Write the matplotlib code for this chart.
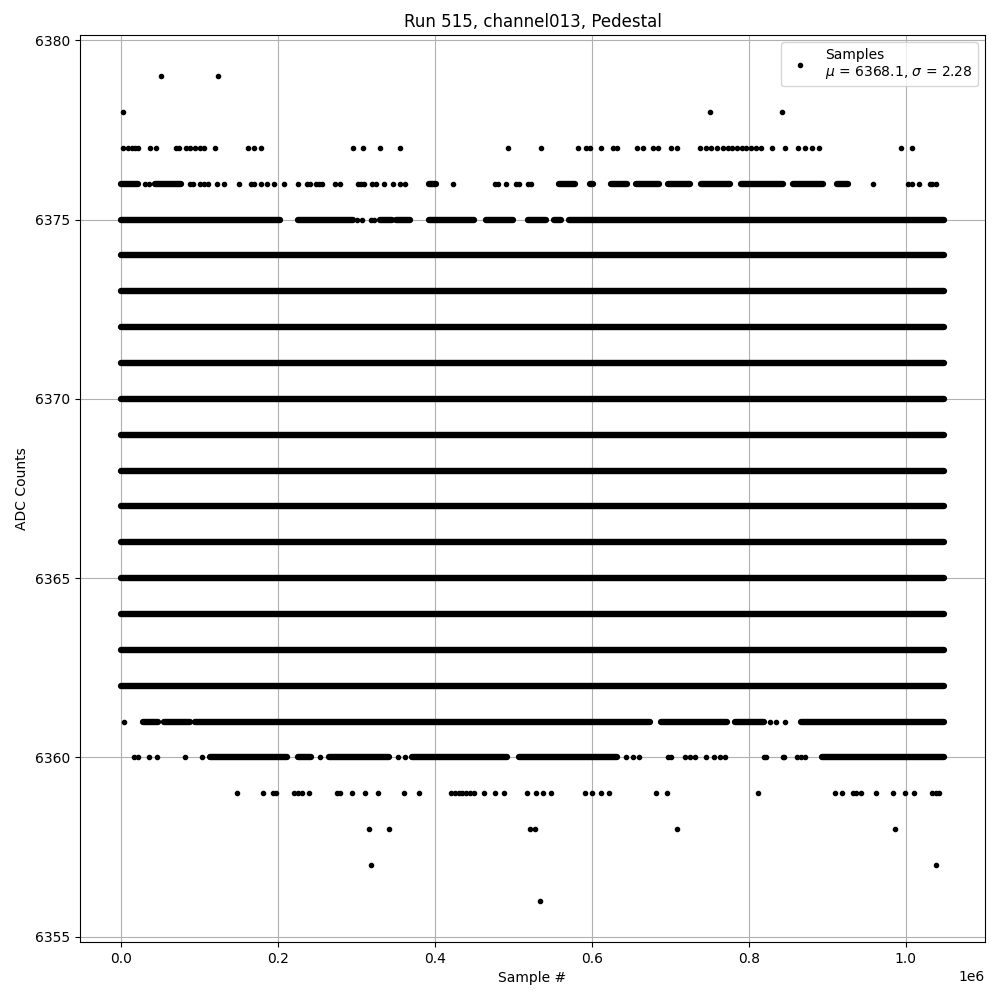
import matplotlib
matplotlib.use("Agg")
import matplotlib.pyplot as plt

# run / channel info
run_number = 515
channel = "channel013"
mean_adc = 6368.1
sigma_adc = 2.28

# last sample index (x values below are in units of 1e6 samples)
x_end = 1.048575

# ADC levels that are filled over the whole run
full_levels = [6362, 6363, 6364, 6365, 6366, 6367, 6368,
               6369, 6370, 6371, 6372, 6373, 6374]

# densely filled stretches (start, end) for the partly filled levels
seg_6375 = [(0.000, 0.203), (0.225, 0.295), (0.330, 0.345), (0.350, 0.368),
            (0.392, 0.450), (0.465, 0.500), (0.518, 0.541), (0.552, 0.560),
            (0.571, x_end)]
seg_6376 = [(0.000, 0.021), (0.043, 0.076), (0.392, 0.401), (0.558, 0.579),
            (0.597, 0.602), (0.624, 0.645), (0.656, 0.685), (0.697, 0.725),
            (0.739, 0.776), (0.790, 0.844), (0.856, 0.895), (0.913, 0.927)]
seg_6361 = [(0.028, 0.047), (0.055, 0.088), (0.094, 0.674), (0.688, 0.772),
            (0.783, 0.819), (0.866, x_end)]
seg_6360 = [(0.113, 0.212), (0.225, 0.242), (0.265, 0.341), (0.371, 0.492),
            (0.507, 0.632), (0.893, x_end)]

# single samples outside the dense stretches
pts_6379 = [0.051, 0.124]
pts_6378 = [0.002, 0.751, 0.842]
pts_6377 = [0.002, 0.009, 0.014, 0.018, 0.022, 0.037, 0.045, 0.070, 0.074,
            0.083, 0.088, 0.094, 0.101, 0.106, 0.120, 0.162, 0.169, 0.178,
            0.296, 0.308, 0.330, 0.356, 0.493, 0.535, 0.582, 0.592, 0.597,
            0.611, 0.627, 0.632, 0.657, 0.665, 0.678, 0.684, 0.701, 0.708,
            0.738, 0.745, 0.752, 0.759, 0.767, 0.773, 0.779, 0.785, 0.791,
            0.797, 0.803, 0.809, 0.816, 0.829, 0.846, 0.863, 0.871, 0.880,
            0.890, 0.994, 1.008]
pts_6376 = [0.031, 0.035, 0.088, 0.092, 0.100, 0.105, 0.111, 0.122, 0.131,
            0.150, 0.166, 0.169, 0.178, 0.186, 0.195, 0.208, 0.225, 0.237,
            0.241, 0.248, 0.252, 0.256, 0.272, 0.279, 0.302, 0.306, 0.310,
            0.320, 0.325, 0.335, 0.347, 0.356, 0.362, 0.423, 0.476, 0.480,
            0.490, 0.503, 0.507, 0.519, 0.523, 0.958, 1.003, 1.008, 1.017,
            1.031, 1.034, 1.038]
pts_6375 = [0.301, 0.307, 0.318, 0.322]
pts_6361 = [0.004, 0.827, 0.835, 0.846]
pts_6360 = [0.016, 0.022, 0.035, 0.046, 0.081, 0.103, 0.253, 0.353, 0.362,
            0.644, 0.652, 0.660, 0.697, 0.701, 0.719, 0.725, 0.731, 0.746,
            0.755, 0.763, 0.770, 0.819, 0.822, 0.843, 0.845, 0.861, 0.866,
            0.871]
pts_6359 = [0.148, 0.181, 0.194, 0.198, 0.220, 0.226, 0.230, 0.240, 0.275,
            0.279, 0.294, 0.311, 0.327, 0.360, 0.380, 0.420, 0.425, 0.430,
            0.435, 0.440, 0.445, 0.450, 0.462, 0.476, 0.488, 0.517, 0.529,
            0.538, 0.548, 0.591, 0.600, 0.611, 0.622, 0.682, 0.696, 0.812,
            0.910, 0.919, 0.933, 0.937, 0.943, 0.962, 0.984, 0.999, 1.011,
            1.033, 1.038, 1.043]
pts_6358 = [0.316, 0.341, 0.521, 0.528, 0.709, 0.986]
pts_6357 = [0.318, 1.038]
pts_6356 = [0.534]

segments = [(lvl, [(0.0, x_end)]) for lvl in full_levels]
segments += [(6375, seg_6375), (6376, seg_6376), (6361, seg_6361), (6360, seg_6360)]

points = [(6379, pts_6379), (6378, pts_6378), (6377, pts_6377), (6376, pts_6376),
          (6375, pts_6375), (6361, pts_6361), (6360, pts_6360), (6359, pts_6359),
          (6358, pts_6358), (6357, pts_6357), (6356, pts_6356)]

fig, ax = plt.subplots(figsize=(10, 10), dpi=100)
fig.subplots_adjust(left=0.08, right=0.985, top=0.965, bottom=0.058)

# dense runs of samples look like thick rows of overlapping dots
for lvl, segs in segments:
    for x0, x1 in segs:
        ax.plot([x0 * 1e6, x1 * 1e6], [lvl, lvl], color="k", lw=4.6,
                solid_capstyle="round")

xs, ys = [], []
for lvl, pts in points:
    xs += [p * 1e6 for p in pts]
    ys += [lvl] * len(pts)

label = "Samples\n$\\mu$ = %.1f, $\\sigma$ = %.2f" % (mean_adc, sigma_adc)
dots, = ax.plot(xs, ys, ".", color="k", label=label)

ax.set_title("Run %d, %s, Pedestal" % (run_number, channel))
ax.set_xlabel("Sample #")
ax.set_ylabel("ADC Counts")
ax.grid(True)
ax.legend(handles=[dots], loc="upper right")

plt.savefig("out.png")
